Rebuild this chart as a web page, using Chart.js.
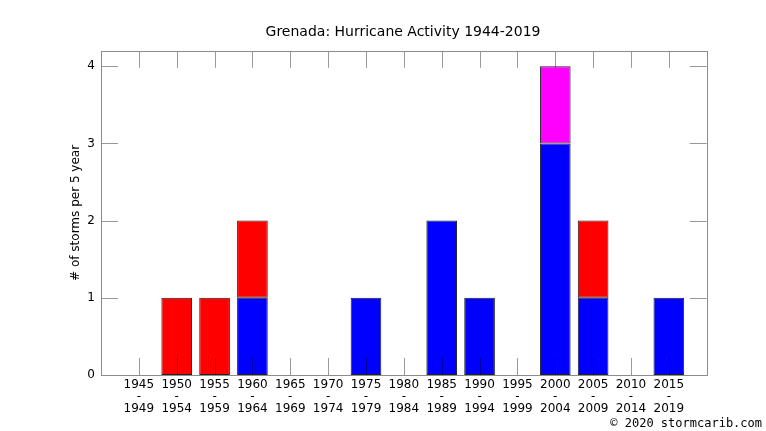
<!DOCTYPE html>
<html>
<head>
<meta charset="utf-8">
<script src="https://cdn.jsdelivr.net/npm/chart.js@4/dist/chart.umd.min.js"></script>
<style>
  html, body { margin: 0; padding: 0; background: #fff; }
  #wrap { width: 766px; height: 431px; }
</style>
</head>
<body>
<div id="wrap"><canvas id="stormChart"></canvas></div>
<script>
// --- DATA ---
const periodStart = [1945, 1950, 1955, 1960, 1965, 1970, 1975, 1980, 1985, 1990, 1995, 2000, 2005, 2010, 2015];
const periodEnd   = [1949, 1954, 1959, 1964, 1969, 1974, 1979, 1984, 1989, 1994, 1999, 2004, 2009, 2014, 2019];
const blueStorms    = [0, 0, 0, 1, 0, 0, 1, 0, 2, 1, 0, 3, 1, 0, 1];
const redStorms     = [0, 1, 1, 1, 0, 0, 0, 0, 0, 0, 0, 0, 1, 0, 0];
const magentaStorms = [0, 0, 0, 0, 0, 0, 0, 0, 0, 0, 0, 1, 0, 0, 0];
const yTicks = [0, 1, 2, 3, 4];

const FONT = "'DejaVu Sans', sans-serif";

function toPoints(values) {
    return values.map((v, i) => ({ x: periodStart[i], y: v }));
}

// tick marks drawn inward on all four sides, like the original plot
const insideTicks = {
    id: 'insideTicks',
    afterDatasetsDraw(chart) {
        const ctx = chart.ctx;
        const area = chart.chartArea;
        const xs = chart.scales.x;
        const ys = chart.scales.y;
        const len = 17;
        ctx.save();
        ctx.lineWidth = 1;
        ctx.strokeStyle = 'rgba(0,0,0,0.4)';
        ctx.beginPath();
        periodStart.forEach(v => {
            const px = Math.round(xs.getPixelForValue(v)) + 0.5;
            ctx.moveTo(px, area.top);
            ctx.lineTo(px, area.top + len);
            ctx.moveTo(px, area.bottom);
            ctx.lineTo(px, area.bottom - len);
        });
        yTicks.forEach(v => {
            const py = Math.round(ys.getPixelForValue(v)) + 0.5;
            ctx.moveTo(area.left, py);
            ctx.lineTo(area.left + len, py);
            ctx.moveTo(area.right, py);
            ctx.lineTo(area.right - len, py);
        });
        ctx.stroke();
        ctx.strokeStyle = '#8c8c8c';
        ctx.strokeRect(Math.round(area.left) + 0.5, Math.round(area.top) + 0.5,
            Math.round(area.right - area.left), Math.round(area.bottom - area.top));
        ctx.restore();
    }
};

const barStyle = {
    borderColor: '#222',
    borderWidth: 1,
    borderSkipped: false,
    categoryPercentage: 0.81,
    barPercentage: 1.0
};

new Chart(document.getElementById('stormChart'), {
    type: 'bar',
    data: {
        datasets: [
            Object.assign({ label: 'blue', data: toPoints(blueStorms), backgroundColor: '#0000ff' }, barStyle),
            Object.assign({ label: 'red', data: toPoints(redStorms), backgroundColor: '#ff0000' }, barStyle),
            Object.assign({ label: 'magenta', data: toPoints(magentaStorms), backgroundColor: '#ff00ff' }, barStyle)
        ]
    },
    options: {
        responsive: true,
        maintainAspectRatio: false,
        animation: false,
        layout: { padding: { left: 44, right: 4, top: 0, bottom: 0 } },
        scales: {
            x: {
                type: 'linear',
                stacked: true,
                offset: false,
                min: 1940,
                max: 2020,
                grid: { display: false, drawTicks: false },
                border: { display: false },
                afterBuildTicks(scale) {
                    scale.ticks = periodStart.map(v => ({ value: v }));
                },
                afterFit(scale) { scale.height = 41.6; },
                ticks: {
                    autoSkip: false,
                    maxRotation: 0,
                    padding: 4,
                    color: '#000',
                    font: { family: FONT, size: 12, lineHeight: 1.0 },
                    callback(v) {
                        const i = periodStart.indexOf(v);
                        return i < 0 ? '' : [String(periodStart[i]), '-', String(periodEnd[i])];
                    }
                }
            },
            y: {
                stacked: true,
                min: 0,
                max: 4.2,
                grid: { display: false, drawTicks: false },
                border: { display: false },
                afterBuildTicks(scale) {
                    scale.ticks = yTicks.map(v => ({ value: v }));
                },
                afterFit(scale) { scale.width = 57; },
                ticks: {
                    padding: 6,
                    color: '#000',
                    font: { family: FONT, size: 12 }
                },
                title: {
                    display: true,
                    text: '# of storms per 5 year',
                    color: '#000',
                    font: { family: FONT, size: 12 },
                    padding: { top: 24.5, bottom: 0 }
                }
            },
            // empty right-hand axis, only reserves the margin right of the plot
            yRight: {
                position: 'right',
                display: true,
                grid: { display: false, drawTicks: false },
                border: { display: false },
                ticks: { display: false },
                afterFit(scale) { scale.width = 55.3; }
            }
        },
        plugins: {
            legend: { display: false },
            tooltip: { enabled: false },
            title: {
                display: true,
                text: 'Grenada: Hurricane Activity 1944-2019',
                color: '#000',
                font: { family: FONT, size: 14, weight: 'normal' },
                padding: { top: 24, bottom: 10 }
            },
            subtitle: {
                display: true,
                position: 'bottom',
                align: 'end',
                text: '\u00a9 2020 stormcarib.com',
                color: '#000',
                font: { family: "'DejaVu Sans Mono', monospace", size: 12 },
                padding: { top: 0, bottom: 0 }
            }
        }
    },
    plugins: [insideTicks]
});
</script>
</body>
</html>
